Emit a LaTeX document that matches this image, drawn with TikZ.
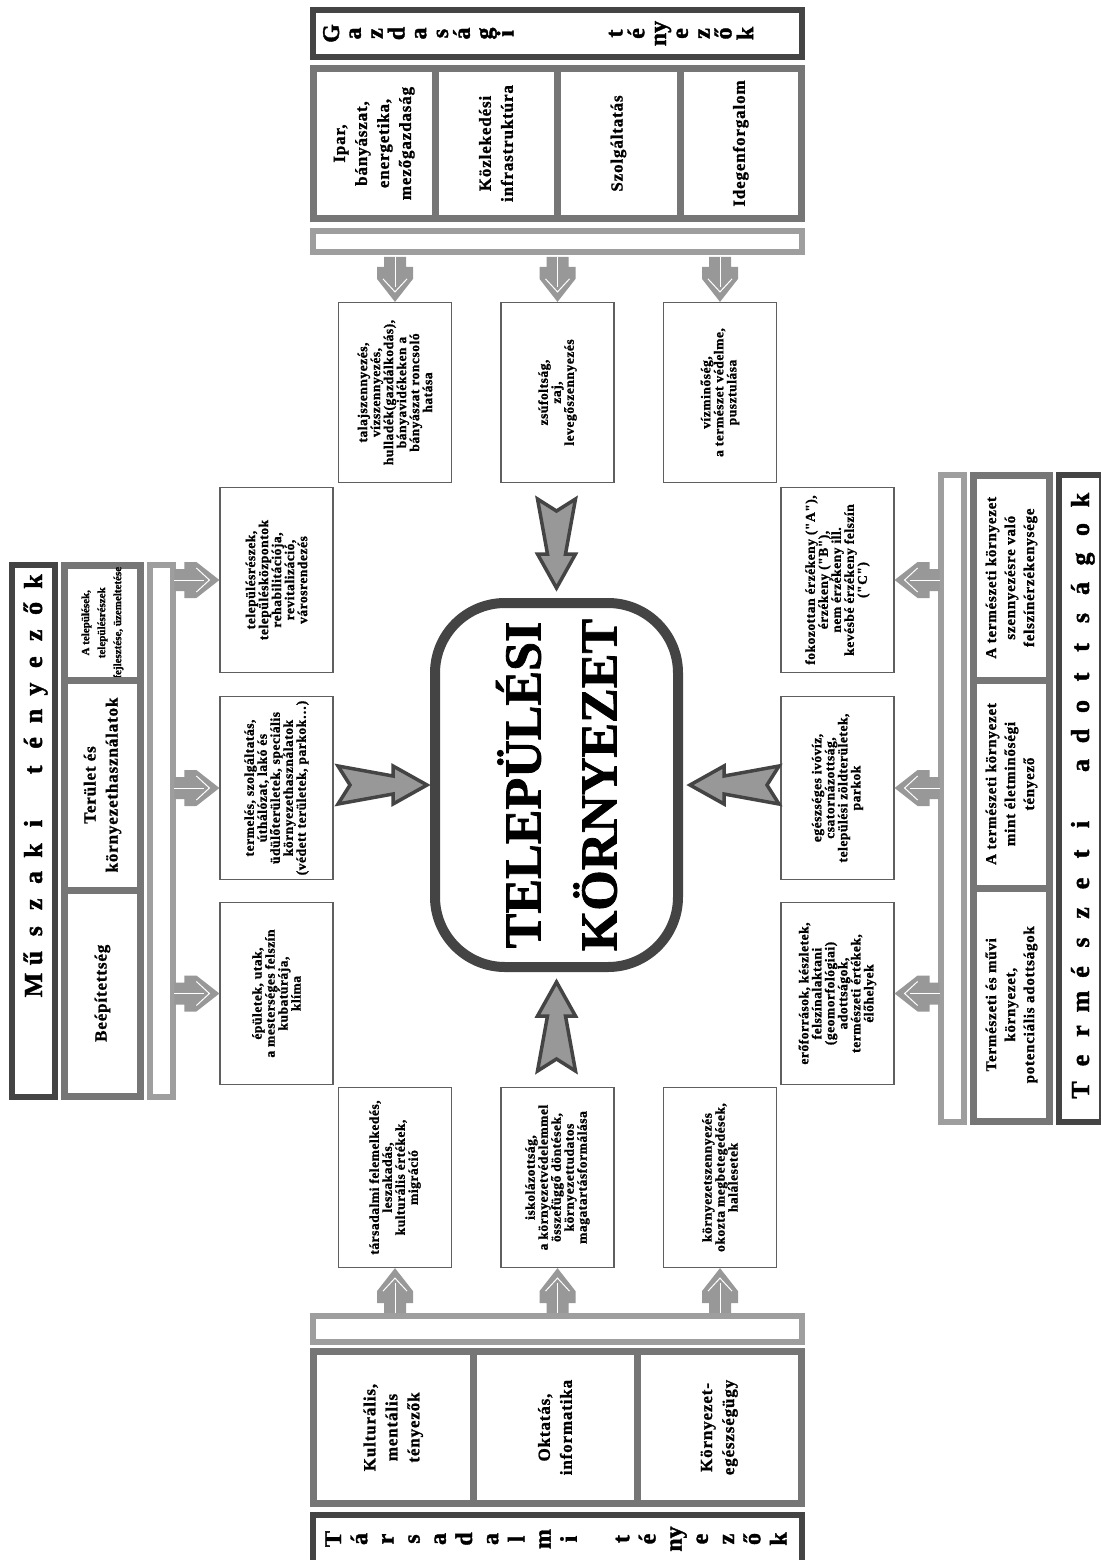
\documentclass[tikz,border=0pt]{standalone}
\usepackage{fontspec}
\setmainfont{Liberation Serif}[BoldFeatures={FakeBold=1.5}]
\newfontfamily\cellfamily{Liberation Serif}[LetterSpace=5, BoldFeatures={FakeBold=1.2}]
\newfontfamily\boxfamily{Liberation Serif}[LetterSpace=4, BoldFeatures={FakeBold=1.2}]
\newfontfamily\plainfamily{Liberation Serif}[BoldFeatures={FakeBold=1.2}]
\usetikzlibrary{calc}
\definecolor{framedark}{RGB}{68,68,68}
\definecolor{framemid}{RGB}{118,118,118}
\definecolor{framelight}{RGB}{158,158,158}
\definecolor{arrowfill}{RGB}{152,152,152}
\definecolor{boxedge}{RGB}{95,95,95}

\begin{document}
\begin{tikzpicture}[x=1pt, y=-1pt,
    titlebar/.style={draw=framedark, line width=6, fill=white, inner sep=0},
    lightbar/.style={draw=framelight, line width=6, fill=white, inner sep=0},
    cell/.style={draw=framemid, line width=7, fill=white, inner sep=0, rotate=90, align=center,
        font=\cellfamily\bfseries\fontsize{17}{22}\selectfont},
    sidecell/.style={cell, minimum height=76, font=\cellfamily\bfseries\fontsize{15}{19}\selectfont},
    tbox/.style={draw=boxedge, line width=1.2, fill=white, inner sep=0, rotate=90, align=center,
        minimum height=113, font=\boxfamily\bfseries\fontsize{13.5}{13}\selectfont},
    letter/.style={rotate=90, anchor=base, inner sep=0, font=\bfseries\fontsize{24}{24}\selectfont},
    envbox/.style={draw=framedark, line width=10, rounded corners=70, fill=white, rotate=90,
        align=center, inner sep=0, font=\bfseries\fontsize{52}{76}\selectfont},
    smallarr/.pic={
        \fill[arrowfill] (-11,-45) -- (11,-45) -- (11,-35) -- (18,-35) -- (18,-23) -- (0,0)
            -- (-18,-23) -- (-18,-35) -- (-11,-35) -- cycle;
        \draw[white, line width=1] (0,-45) -- (0,-15);
        \draw[white, line width=1] (-12,-23) -- (0,-10) -- (12,-23);
    },
    bigarr/.pic={
        \draw[framedark, line width=3.5, fill=arrowfill, line join=miter]
            (-19,-89) -- (-9,-34) -- (-19,-34) -- (0,0) -- (19,-34) -- (9,-34) -- (19,-89) -- (0,-77) -- cycle;
    }
]
\useasboundingbox (0,0) rectangle (1100,1560);
\fill[white] (0,0) rectangle (1100,1560);

% Gazdasagi tenyezok (top)
\node[titlebar, minimum width=489, minimum height=47] (gtitle) at (557.5,33.5) {};
\foreach \p/\c in {0/G,1/a,2/z,3/d,4/a,5/s,6/á,7/g,8/i,13/t,14/é,15/ny,16/e,17/z,18/ő,19/k}
    \node[letter] (gl\p) at ({339+21.8*\p},33.5) {\c};
\node[cell, minimum width=150, minimum height=121.5] (g1) at (374.25,143.5) {Ipar,\\bányászat,\\energetika,\\mezőgazdaság};
\node[cell, minimum width=150, minimum height=122] (g2) at (496,143.5) {Közlekedési\\infrastruktúra};
\node[cell, minimum width=150, minimum height=123] (g3) at (618.5,143.5) {Szolgáltatás};
\node[cell, minimum width=150, minimum height=121.5] (g4) at (740.75,143.5) {Idegenforgalom};
\node[lightbar, minimum width=489, minimum height=21] (gbar) at (557.5,241.5) {};
\node[tbox, minimum width=180] (gt1) at (395,392.5) {talajszennyezés,\\vízszennyezés,\\hulladék(gazdálkodás),\\bányavidékeken a\\bányászat roncsoló\\hatása};
\node[tbox, minimum width=180] (gt2) at (557.5,392.5) {zsúfoltság,\\zaj,\\levegőszennyezés};
\node[tbox, minimum width=180] (gt3) at (720,392.5) {vízminőség,\\a természet védelme,\\pusztulása};
\foreach \n in {gt1,gt2,gt3} \pic at (\n.east) {smallarr};

% Muszaki tenyezok (left)
\node[titlebar, minimum width=43, minimum height=532] (mtitle) at (33.5,831) {};
\foreach \p/\c in {0/M,1/ű,2/s,3/z,4/a,5/k,6/i,8/t,9/é,10/n,11/y,12/e,13/z,14/ő,15/k}
    \node[letter, font=\bfseries\fontsize{26}{26}\selectfont] (ml\p) at (42,{985-26.9*\p}) {\c};
\node[sidecell, minimum width=114.5, font=\plainfamily\bfseries\fontsize{11}{16}\selectfont] (m1) at (102.5,622.75) {A települések,\\településrészek\\fejlesztése, üzemeltetése};
\node[sidecell, minimum width=210, font=\cellfamily\bfseries\fontsize{17}{22}\selectfont] (m2) at (102.5,785) {Terület és\\környezethasználatok};
\node[sidecell, minimum width=206.5, font=\cellfamily\bfseries\fontsize{17}{22}\selectfont] (m3) at (102.5,993.25) {Beépítettség};
\node[lightbar, minimum width=23, minimum height=532] (mbar) at (161.5,831) {};
\node[tbox, minimum width=185] (mt1) at (276.5,580) {településrészek,\\településközpontok\\rehabilitációja,\\revitalizáció,\\városrendezés};
\node[tbox, minimum width=183] (mt2) at (276.5,788) {termelés, szolgáltatás,\\úthálózat, lakó és\\üdülőterületek, speciális\\környezethasználatok\\(védett területek, parkok\ldots)};
\node[tbox, minimum width=182] (mt3) at (276.5,993.5) {épületek, utak,\\a mesterséges felszín\\kubatúrája,\\klíma};
\foreach \n in {mt1,mt2,mt3} \pic[rotate=90] at (\n.north) {smallarr};

% Termeszeti adottsagok (right)
\node[lightbar, minimum width=23, minimum height=647] (tbar) at (952.5,798.5) {};
\node[sidecell, minimum width=204.5] (r1) at (1011.5,577.75) {A természeti környezet\\szennyezésre való\\felszínérzékenysége};
\node[sidecell, minimum width=208] (r2) at (1011.5,784) {A természeti környezet\\mint életminőségi\\tényező};
\node[sidecell, minimum width=233.5] (r3) at (1011.5,1004.75) {Természeti és művi\\környezet,\\potenciális adottságok};
\node[titlebar, minimum width=43, minimum height=647] (ttitle) at (1080.5,798.5) {};
\foreach \p/\c in {0/T,1/e,2/r,3/m,4/é,5/s,6/z,7/e,8/t,9/i,11/a,12/d,13/o,14/t,15/t,16/s,17/á,18/g,19/o,20/k}
    \node[letter, font=\bfseries\fontsize{26}{26}\selectfont] (tl\p) at (1089,{1090-29.5*\p}) {\c};
\node[tbox, minimum width=185] (tt1) at (837.5,580) {fokozottan érzékeny ("A"),\\érzékeny ("B"),\\nem érzékeny ill.\\kevésbé érzékeny felszín\\("C")};
\node[tbox, minimum width=183] (tt2) at (837.5,788) {egészséges ivóvíz,\\csatornázottság,\\települési zöldterületek,\\parkok};
\node[tbox, minimum width=182] (tt3) at (837.5,993.5) {erőforrások, készletek,\\felszínalaktani\\(geomorfológiai)\\adottságok,\\természeti értékek,\\élőhelyek};
\foreach \n in {tt1,tt2,tt3} \pic[rotate=-90] at (\n.south) {smallarr};

% Tarsadalmi tenyezok (bottom)
\node[tbox, minimum width=180] (st1) at (395,1177.5) {társadalmi felemelkedés,\\leszakadás,\\kulturális értékek,\\migráció};
\node[tbox, minimum width=180] (st2) at (557.5,1177.5) {iskolázottság,\\a környezetvédelemmel\\összefüggő döntések,\\környezettudatos\\magatartásformálása};
\node[tbox, minimum width=180] (st3) at (720,1177.5) {környezetszennyezés\\okozta megbetegedések,\\halálesetek};
\foreach \n in {st1,st2,st3} \pic[rotate=180] at (\n.west) {smallarr};
\node[lightbar, minimum width=489, minimum height=26] (sbar) at (557.5,1329) {};
\node[cell, minimum width=152, minimum height=159.5] (s1) at (393.25,1427.5) {Kulturális,\\mentális\\tényezők};
\node[cell, minimum width=152, minimum height=164] (s2) at (555,1427.5) {Oktatás,\\informatika};
\node[cell, minimum width=152, minimum height=164.5] (s3) at (719.25,1427.5) {Környezet-\\egészségügy};
\node[titlebar, minimum width=489, minimum height=48] (stitle) at (557.5,1539) {};
\foreach \p/\c in {0/T,1/á,2/r,3/s,4/a,5/d,6/a,7/l,8/m,9/i,11/t,12/é,13/ny,14/e,15/z,16/ő,17/k}
    \node[letter] (sl\p) at ({341+26.2*\p},1539) {\c};

% center
\node[envbox, minimum width=364, minimum height=243] (env) at (556.5,785) {TELEPÜLÉSI\\KÖRNYEZET};
\pic at ($(env.east)+(0,-10)$) {bigarr};
\pic[rotate=90] at ($(env.north)+(-3,0)$) {bigarr};
\pic[rotate=-90] at ($(env.south)+(7,0)$) {bigarr};
\pic[rotate=180] at ($(env.west)+(0,10)$) {bigarr};
\end{tikzpicture}
\end{document}
